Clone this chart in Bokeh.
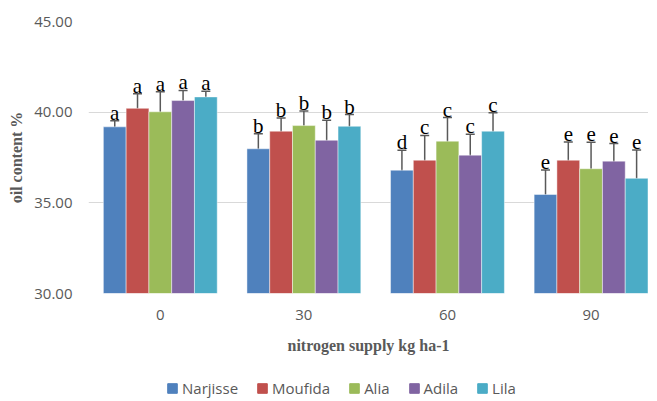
import numpy as np
from bokeh.plotting import figure
from bokeh.layouts import column
from bokeh.models import (ColumnDataSource, Range1d, FixedTicker, NumeralTickFormatter,
                          Whisker, TeeHead, Legend, LegendItem, LabelSet)
from bokeh.embed import file_html
from bokeh.resources import INLINE

# ---- data ----
doses = ["0", "30", "60", "90"]
cultivars = ["Narjisse", "Moufida", "Alia", "Adila", "Lila"]
colors = ["#4F81BD", "#C0504D", "#9BBB59", "#8064A2", "#4BACC6"]

narjisse = [39.19, 37.98, 36.80, 35.46]
moufida = [40.21, 38.95, 37.35, 37.35]
alia = [40.02, 39.26, 38.40, 36.88]
adila = [40.64, 38.45, 37.63, 37.30]
lila = [40.84, 39.22, 38.95, 36.35]

narjisse_err = [0.34, 0.83, 1.10, 1.35]
moufida_err = [0.80, 0.73, 1.37, 1.00]
alia_err = [1.10, 0.80, 1.30, 1.46]
adila_err = [0.56, 1.10, 1.15, 0.97]
lila_err = [0.31, 0.65, 1.02, 1.56]

narjisse_letters = ["a", "b", "d", "e"]
moufida_letters = ["a", "b", "c", "e"]
alia_letters = ["a", "b", "c", "e"]
adila_letters = ["a", "b", "c", "e"]
lila_letters = ["a", "b", "c", "e"]

values = [narjisse, moufida, alia, adila, lila]
errors = [narjisse_err, moufida_err, alia_err, adila_err, lila_err]
letters = [narjisse_letters, moufida_letters, alia_letters, adila_letters, lila_letters]

y_ticks = [30, 35, 40, 45]

GRAY = "#595959"
SANS = "Open Sans"
SERIF = "Liberation Serif"

p = figure(width=648, height=379, output_backend="svg", toolbar_location=None,
           x_range=Range1d(-0.5, 3.4), y_range=Range1d(30, 45),
           min_border_left=88, min_border_right=0, min_border_top=21,
           min_border_bottom=86)
p.outline_line_color = None
p.background_fill_color = "white"
p.border_fill_color = "white"

bw = 0.1586
base = np.arange(len(doses))
for k, name in enumerate(cultivars):
    x = base + (k - 2) * bw
    v = np.array(values[k])
    e = np.array(errors[k])
    src = ColumnDataSource(dict(x=x, top=v, upper=v + e, lower=v - e, lab=letters[k]))
    p.vbar(x="x", top="top", bottom=30, width=bw, source=src,
           fill_color=colors[k], line_color="white", line_alpha=0.45, line_width=1)
    w = Whisker(base="x", upper="upper", lower="lower", source=src,
                line_color=GRAY, line_width=1.5,
                upper_head=TeeHead(size=9, line_color=GRAY, line_width=1.5),
                lower_head=TeeHead(size=9, line_color=GRAY, line_width=1.5))
    p.add_layout(w)
    lbl = LabelSet(x="x", y="upper", text="lab", source=src, text_align="center",
                   text_baseline="alphabetic", y_offset=1, text_font=SERIF,
                   text_font_size="21px", text_color="black")
    p.add_layout(lbl)

# axes
p.xaxis.ticker = FixedTicker(ticks=list(range(len(doses))))
p.xaxis.major_label_overrides = {i: d for i, d in enumerate(doses)}
p.xaxis.axis_line_color = None
p.xaxis.major_tick_line_color = None
p.xaxis.major_tick_out = 0
p.xaxis.major_tick_in = 0
p.xaxis.minor_tick_line_color = None
p.xaxis.major_label_text_font = SANS
p.xaxis.major_label_text_font_size = "15px"
p.xaxis.major_label_text_color = GRAY
p.xaxis.major_label_standoff = 16
p.xaxis.axis_label = "nitrogen supply kg ha-1"
p.xaxis.axis_label_text_font = SERIF
p.xaxis.axis_label_text_font_style = "bold"
p.xaxis.axis_label_text_font_size = "16px"
p.xaxis.axis_label_text_color = GRAY
p.xaxis.axis_label_standoff = 14

p.yaxis.ticker = FixedTicker(ticks=y_ticks)
p.yaxis.formatter = NumeralTickFormatter(format="0.00")
p.yaxis.axis_line_color = None
p.yaxis.major_tick_line_color = None
p.yaxis.major_tick_out = 0
p.yaxis.major_tick_in = 0
p.yaxis.minor_tick_line_color = None
p.yaxis.major_label_text_font = SANS
p.yaxis.major_label_text_font_size = "15px"
p.yaxis.major_label_text_color = GRAY
p.yaxis.major_label_standoff = 16
p.yaxis.axis_label = "oil content %"
p.yaxis.axis_label_text_font = SERIF
p.yaxis.axis_label_text_font_style = "bold"
p.yaxis.axis_label_text_font_size = "16px"
p.yaxis.axis_label_text_color = GRAY
p.yaxis.axis_label_standoff = 6

p.xgrid.grid_line_color = None
p.ygrid.grid_line_color = "#D9D9D9"
p.ygrid.grid_line_width = 1.2

# legend strip below the chart (its frame is aligned with the chart's frame)
pl = figure(width=648, height=20, output_backend="svg", toolbar_location=None,
            x_range=Range1d(0, 1), y_range=Range1d(0, 1),
            x_axis_type=None, y_axis_type=None, min_border=0)
pl.outline_line_color = None
pl.xgrid.grid_line_color = None
pl.ygrid.grid_line_color = None
items = []
for k, name in enumerate(cultivars):
    r = pl.vbar(x=[-5], top=[-5], bottom=-6, width=0.1,
                fill_color=colors[k], line_color=colors[k])
    items.append(LegendItem(label=name, renderers=[r]))
legend = Legend(items=items, orientation="horizontal", location=(78, 1),
                label_text_font=SANS, label_text_font_size="15px",
                label_text_color=GRAY, glyph_width=12, glyph_height=12,
                label_height=18, label_standoff=4, spacing=18, padding=0, margin=0,
                border_line_color=None, background_fill_alpha=0)
pl.add_layout(legend, "center")

layout = column(p, pl, spacing=0)
open("out.html", "w").write(file_html(layout, INLINE))
